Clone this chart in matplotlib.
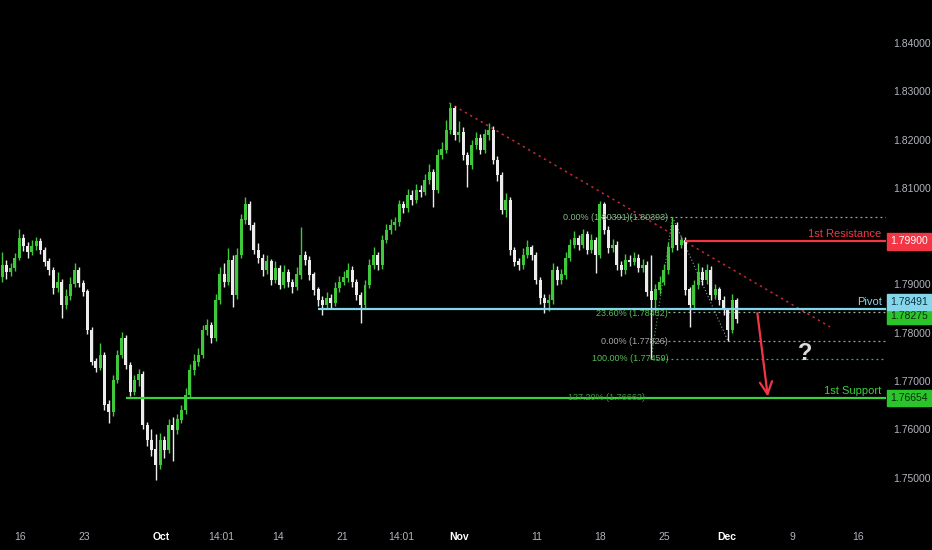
import matplotlib
matplotlib.use("Agg")
import matplotlib.pyplot as plt
import matplotlib.transforms as mtransforms
import numpy as np

OUTPUT_FILE = "out.png"
plt.rcParams["font.family"] = ["Liberation Sans", "DejaVu Sans"]

# 8h candles (GBPCAD style, mid Sep -> early Dec)
first_open = 1.7915
closes = [
    1.7940, 1.7926, 1.7934, 1.7955, 1.7996, 1.7980, 1.7967, 1.7980, 1.7990, 1.7971,
    1.7947, 1.7930, 1.7893, 1.7905, 1.7858, 1.7876, 1.7901, 1.7930, 1.7903, 1.7885,
    1.7806, 1.7740, 1.7727, 1.7754, 1.7651, 1.7636, 1.7702, 1.7754, 1.7789, 1.7733,
    1.7678, 1.7702, 1.7713, 1.7609, 1.7578, 1.7558, 1.7526, 1.7578, 1.7558, 1.7609,
    1.7599, 1.7620, 1.7640, 1.7671, 1.7723, 1.7740, 1.7754, 1.7806, 1.7816, 1.7789,
    1.7868, 1.7920, 1.7905, 1.7951, 1.7878, 1.7961, 1.8034, 1.8065, 1.8023, 1.7971,
    1.7955, 1.7930, 1.7947, 1.7909, 1.7934, 1.7899, 1.7926, 1.7905, 1.7895, 1.7920,
    1.7961, 1.7951, 1.7920, 1.7889, 1.7868, 1.7858, 1.7872, 1.7862, 1.7893, 1.7905,
    1.7914, 1.7930, 1.7905, 1.7878, 1.7858, 1.7899, 1.7940, 1.7961, 1.7940, 1.7992,
    1.8013, 1.8023, 1.8029, 1.8065, 1.8059, 1.8085, 1.8075, 1.8096, 1.8092, 1.8116,
    1.8133, 1.8096, 1.8168, 1.8179, 1.8220, 1.8265, 1.8210, 1.8216, 1.8168, 1.8147,
    1.8189, 1.8203, 1.8179, 1.8210, 1.8220, 1.8158, 1.8127, 1.8054, 1.8075, 1.7971,
    1.7947, 1.7940, 1.7961, 1.7976, 1.7961, 1.7909, 1.7872, 1.7862, 1.7868, 1.7930,
    1.7909, 1.7920, 1.7955, 1.7982, 1.7996, 1.7982, 1.8003, 1.7971, 1.7992, 1.7961,
    1.8065, 1.8013, 1.7976, 1.7982, 1.7940, 1.7930, 1.7951, 1.7947, 1.7955, 1.7934,
    1.7940, 1.7885, 1.7868, 1.7889, 1.7905, 1.7930, 1.7976, 1.8023, 1.7982, 1.7992,
    1.7889, 1.7858, 1.7899, 1.7926, 1.7909, 1.7930, 1.7878, 1.7889, 1.7868, 1.7847,
    1.7806, 1.7868, 1.78275,
]
highs = [
    1.7968, 1.7950, 1.7945, 1.7965, 1.8015, 1.8004, 1.7988, 1.7992, 1.7998, 1.7996,
    1.7978, 1.7955, 1.7936, 1.7925, 1.7912, 1.7890, 1.7915, 1.7945, 1.7936, 1.7910,
    1.7890, 1.7812, 1.7748, 1.7779, 1.7760, 1.7660, 1.7712, 1.7765, 1.7802, 1.7795,
    1.7740, 1.7712, 1.7725, 1.7720, 1.7615, 1.7600, 1.7590, 1.7592, 1.7585, 1.7622,
    1.7625, 1.7632, 1.7650, 1.7685, 1.7735, 1.7755, 1.7768, 1.7815, 1.7828, 1.7822,
    1.7880, 1.7935, 1.7945, 1.7975, 1.7960, 1.7975, 1.8045, 1.8081, 1.8072, 1.8030,
    1.7985, 1.7962, 1.7960, 1.7952, 1.7948, 1.7940, 1.7940, 1.7932, 1.7912, 1.7935,
    1.8019, 1.7970, 1.7958, 1.7926, 1.7895, 1.7875, 1.7885, 1.7880, 1.7905, 1.7918,
    1.7928, 1.7945, 1.7938, 1.7912, 1.7885, 1.7910, 1.7952, 1.7978, 1.7968, 1.8002,
    1.8025, 1.8035, 1.8040, 1.8075, 1.8072, 1.8098, 1.8095, 1.8108, 1.8105, 1.8128,
    1.8150, 1.8140, 1.8180, 1.8195, 1.8240, 1.8276, 1.8270, 1.8238, 1.8225, 1.8175,
    1.8200, 1.8215, 1.8212, 1.8222, 1.8234, 1.8228, 1.8165, 1.8132, 1.8090, 1.8080,
    1.7978, 1.7955, 1.7975, 1.7992, 1.7982, 1.7968, 1.7915, 1.7880, 1.7880, 1.7945,
    1.7938, 1.7932, 1.7968, 1.7995, 1.8010, 1.8003, 1.8015, 1.8010, 1.8005, 1.7998,
    1.8073, 1.8070, 1.8020, 1.7995, 1.7990, 1.7948, 1.7962, 1.7960, 1.7968, 1.7962,
    1.7952, 1.7948, 1.7961, 1.7900, 1.7918, 1.7942, 1.7988, 1.80393, 1.8030, 1.8000,
    1.7999, 1.7895, 1.7910, 1.7945, 1.7935, 1.7942, 1.7938, 1.7900, 1.7895, 1.7875,
    1.7852, 1.7880, 1.7872,
]
lows = [
    1.7905, 1.7912, 1.7918, 1.7928, 1.7950, 1.7970, 1.7955, 1.7960, 1.7972, 1.7962,
    1.7938, 1.7920, 1.7880, 1.7885, 1.7831, 1.7850, 1.7868, 1.7895, 1.7894, 1.7875,
    1.7798, 1.7733, 1.7718, 1.7722, 1.7640, 1.7613, 1.7628, 1.7695, 1.7748, 1.7725,
    1.7668, 1.7670, 1.7690, 1.7600, 1.7565, 1.7545, 1.7495, 1.7518, 1.7540, 1.7550,
    1.7535, 1.7590, 1.7612, 1.7632, 1.7665, 1.7712, 1.7730, 1.7748, 1.7795, 1.7778,
    1.7782, 1.7860, 1.7895, 1.7898, 1.7854, 1.7870, 1.7955, 1.8025, 1.8012, 1.7962,
    1.7945, 1.7918, 1.7922, 1.7898, 1.7902, 1.7890, 1.7892, 1.7895, 1.7882, 1.7888,
    1.7912, 1.7940, 1.7910, 1.7878, 1.7855, 1.7837, 1.7850, 1.7852, 1.7855, 1.7885,
    1.7898, 1.7905, 1.7895, 1.7868, 1.7820, 1.7850, 1.7892, 1.7932, 1.7930, 1.7932,
    1.7985, 1.8005, 1.8012, 1.8020, 1.8048, 1.8050, 1.8065, 1.8068, 1.8080, 1.8085,
    1.8108, 1.8061, 1.8090, 1.8160, 1.8172, 1.8212, 1.8200, 1.8195, 1.8158, 1.8102,
    1.8140, 1.8180, 1.8170, 1.8172, 1.8200, 1.8150, 1.8115, 1.8045, 1.8040, 1.7960,
    1.7938, 1.7930, 1.7932, 1.7955, 1.7950, 1.7900, 1.7860, 1.7841, 1.7845, 1.7860,
    1.7898, 1.7900, 1.7912, 1.7948, 1.7975, 1.7972, 1.7975, 1.7962, 1.7965, 1.7924,
    1.7955, 1.8005, 1.7965, 1.7968, 1.7930, 1.7918, 1.7922, 1.7938, 1.7940, 1.7925,
    1.7925, 1.7875, 1.77459, 1.7840, 1.7880, 1.7898, 1.7922, 1.7968, 1.7972, 1.7975,
    1.7878, 1.7812, 1.7850, 1.7890, 1.7898, 1.7900, 1.7868, 1.7870, 1.7858, 1.7837,
    1.77826, 1.7800, 1.7820,
]

# x axis labels (bar positions where TradingView printed them)
tick_pos = [4.2, 19.2, 37.2, 51.3, 64.6, 79.6, 93.4, 107.0, 125.1, 140.0, 155.0, 169.8, 185.2, 200.5]
tick_labels = ["16", "23", "Oct", "14:01", "14", "21", "14:01", "Nov", "11", "18", "25", "Dec", "9", "16"]
# 1.80000 sits under the resistance tag, so it is not printed
price_ticks = [1.75, 1.76, 1.77, 1.78, 1.79, 1.81, 1.82, 1.83, 1.84]

# key levels
resistance = 1.79900
pivot = 1.78491
support = 1.76654
last_price = 1.78275
fib_top = 1.80393
fib_236 = 1.78432
fib_0 = 1.77826
fib_100 = 1.77459
fib_1272 = 1.76662

UP = "#3fc93a"
DOWN = "#ececec"
RED = "#f23645"
BLUE = "#86d6ea"
GREEN = "#3ad13a"
AXIS_TXT = "#b2b5be"

fig = plt.figure(figsize=(9.32, 5.5), dpi=100, facecolor="black")
ax = fig.add_axes([0, 30 / 550, 886 / 932, 520 / 550], facecolor="black")

opens = [first_open] + closes[:-1]
idx = np.arange(len(closes))
o = np.array(opens)
c = np.array(closes)
up = c >= o
colors = np.where(up, UP, DOWN)

ax.vlines(idx, lows, highs, colors=colors, linewidth=1.0, zorder=3)
ax.bar(idx, np.abs(c - o) + 0.00005, bottom=np.minimum(o, c), width=0.7,
       color=colors, edgecolor=colors, linewidth=0, zorder=4)

xr = 207.0
# key horizontal levels
ax.hlines(resistance, 160, xr, color=RED, linewidth=1.6, zorder=5)
ax.hlines(pivot, 74, xr, color=BLUE, linewidth=1.6, zorder=5)
ax.hlines(support, 29, xr, color=GREEN, linewidth=1.6, zorder=5)

# fib levels (dotted)
dots = (0, (1.5, 2.5))
ax.hlines(fib_top, 140, xr, color="#9aa89a", linewidth=0.9, linestyles=dots, zorder=2)
ax.hlines(fib_236, 156, xr, color="#a8b8a0", linewidth=0.9, linestyles=dots, zorder=2)
ax.hlines(fib_0, 152.5, xr, color="#a0a0a0", linewidth=0.9, linestyles=dots, zorder=2)
ax.hlines(fib_100, 152, xr, color="#4caf50", linewidth=0.9, linestyles=dots, zorder=2)
ax.plot([152, 157], [fib_100, fib_top], color="#4caf50", linewidth=0.8, linestyle=(0, (1, 2)), zorder=2)
ax.plot([157, 170], [fib_top, fib_0], color="#a0a0a0", linewidth=0.8, linestyle=(0, (1, 2)), zorder=2)

fib_txt = dict(fontsize=6.5, ha="right", va="center", zorder=6)
ax.text(156, fib_top, "0.00% (1.80391)(1.80393)", color="#86b886", **fib_txt)
ax.text(156, fib_236 - 0.0003, "23.60% (1.78432)", color="#55c055", **fib_txt)
ax.text(156, fib_0, "0.00% (1.77826)", color="#a8a8a8", **fib_txt)
ax.text(156, fib_100, "100.00% (1.77459)", color="#55c055", **fib_txt)
ax.text(150.5, fib_1272, "127.20% (1.76662)", color="#3f9a3f", **fib_txt)

# descending trendline
ax.plot([104.7, 193.9], [1.8276, 1.7812], color="#c42a36", linewidth=1.1,
        linestyle=(0, (1.5, 2.5)), zorder=2)

# projected move
ax.annotate("", xy=(179.4, 1.7662), xytext=(176.8, 1.7846),
            arrowprops=dict(arrowstyle="->", color=RED, lw=1.6, mutation_scale=22), zorder=7)
ax.text(188, 1.7757, "?", color="#dcdcdc", fontsize=17, fontweight="bold",
        ha="center", va="center", zorder=7)

# level names
lab = dict(fontsize=8, ha="right", va="bottom", zorder=6)
ax.text(206, resistance + 0.0004, "1st Resistance", color=RED, **lab)
ax.text(206, pivot + 0.0004, "Pivot", color=BLUE, **lab)
ax.text(206, support + 0.0004, "1st Support", color=GREEN, **lab)

ax.set_xlim(-0.47, xr)
ax.set_ylim(1.7412, 1.8489)

ax.set_xticks(tick_pos)
ax.set_xticklabels(tick_labels)
for t in ax.get_xticklabels():
    if t.get_text() in ("Oct", "Nov", "Dec"):
        t.set_color("white")
        t.set_fontweight("bold")
    else:
        t.set_color(AXIS_TXT)
ax.tick_params(axis="x", length=0, labelsize=7.5, pad=9)

ax.yaxis.tick_right()
ax.set_yticks(price_ticks)
ax.set_yticklabels([f"{p:.5f}" for p in price_ticks])
ax.tick_params(axis="y", length=0, labelsize=7.5, colors=AXIS_TXT, pad=5)

for s in ax.spines.values():
    s.set_visible(False)

# price tags on the right scale
trans = mtransforms.blended_transform_factory(ax.transAxes, ax.transData)
tags = [
    (resistance - 0.0001, "1.79900", RED, "white"),
    (1.78349, "1.78275", "#2bc52b", "#0b2a0b"),
    (1.78628, "1.78491", BLUE, "#0b3344"),
    (support - 0.0001, "1.76654", "#2bc52b", "#0b2a0b"),
]
for y, txt, bg, fg in tags:
    ax.text(1.0045, y, txt, transform=trans, fontsize=7.5, color=fg, ha="left", va="center",
            clip_on=False, zorder=8,
            bbox=dict(boxstyle="square,pad=0.3", facecolor=bg, edgecolor=bg))

plt.savefig(OUTPUT_FILE, dpi=100, facecolor="black")
